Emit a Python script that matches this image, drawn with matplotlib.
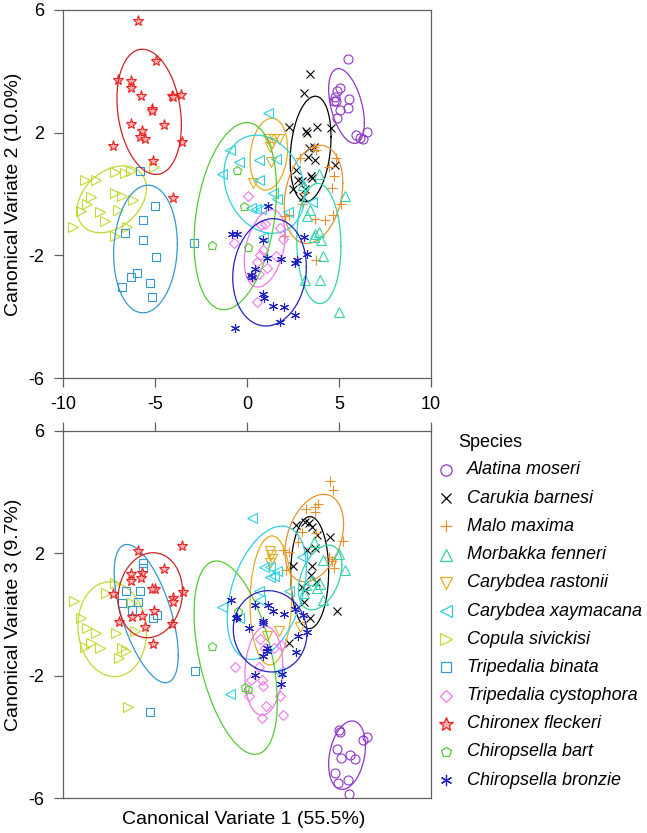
import numpy as np
import matplotlib
matplotlib.use('Agg')
import matplotlib.pyplot as plt
from matplotlib.lines import Line2D

plt.rcParams['font.family'] = ['Liberation Sans', 'DejaVu Sans']
plt.rcParams['axes.unicode_minus'] = False

species = ['Alatina moseri', 'Carukia barnesi', 'Malo maxima', 'Morbakka fenneri',
           'Carybdea rastonii', 'Carybdea xaymacana', 'Copula sivickisi', 'Tripedalia binata',
           'Tripedalia cystophora', 'Chironex fleckeri', 'Chiropsella bart', 'Chiropsella bronzie']

# points in the CV1/CV2 plane (top) and CV1/CV3 plane (bottom)
alatina_cv1_a = [5.48, 5.06, 4.88, 4.75, 4.85, 5.55, 5.48, 5.06, 4.88, 5.92, 6.28, 6.52, 6.15, 4.70]
alatina_cv2 = [4.39, 3.47, 3.37, 3.17, 3.04, 3.11, 2.82, 2.74, 2.48, 1.92, 1.78, 2.02, 1.83, 3.04]
alatina_cv1_b = [4.97, 5.06, 6.30, 6.52, 4.88, 5.10, 5.57, 5.88, 4.75, 4.94, 5.48, 5.52]
alatina_cv3 = [-3.79, -3.84, -4.11, -4.00, -4.41, -4.68, -4.60, -4.73, -5.17, -5.50, -5.42, -5.86]

carukia_cv1_a = [3.43, 3.07, 2.25, 3.79, 4.57, 3.21, 3.28, 3.39, 3.61, 3.30, 3.70, 4.79, 2.67, 3.47,
                 3.52, 2.79, 2.98, 2.52, 3.16, 3.03]
carukia_cv2 = [3.90, 3.30, 2.19, 2.19, 2.17, 2.05, 1.98, 1.49, 1.52, 1.21, 1.10, 0.94, 0.78, 0.59,
               0.54, 0.47, 0.43, 0.15, 0.18, -0.09]
carukia_cv1_b = [2.67, 3.16, 3.39, 3.52, 3.79, 4.52, 3.25, 3.70, 2.52, 3.52, 3.47, 2.98, 3.16, 3.76,
                 3.07, 4.88, 3.43, 2.25]
carukia_cv3 = [2.92, 3.03, 3.00, 2.87, 2.60, 2.54, 2.11, 2.16, 1.59, 1.59, 1.29, 0.91, 0.80, 1.07,
               0.41, 0.12, -0.10, -0.92]

malo_cv1_a = [3.61, 3.76, 2.89, 4.85, 4.43, 4.70, 4.61, 5.10, 1.98, 2.30, 3.70, 4.21, 4.66, 2.01,
              3.76, 3.07, 2.98]
malo_cv2 = [1.54, 1.43, 1.19, 1.19, 0.87, 0.58, 0.21, -0.31, -0.71, -0.69, -0.81, -0.83, -0.69, -1.38,
            -2.14, 0.02, -0.31]
malo_cv1_b = [4.48, 4.66, 3.21, 3.70, 3.83, 3.70, 2.79, 1.94, 2.30, 5.21, 4.43, 4.61, 4.75, 4.70,
              2.12, 3.76, 2.98]
malo_cv3 = [4.36, 4.07, 3.44, 3.50, 3.61, 3.34, 2.38, 2.11, 2.05, 2.41, 1.89, 1.76, 1.83, 1.51,
            1.45, 2.67, 2.71]

morbakka_cv1_a = [5.34, 3.88, 3.43, 3.25, 3.88, 3.70, 3.61, 4.01, 4.12, 3.16, 3.97, 4.97, 3.03]
morbakka_cv2 = [-0.07, 0.65, -0.53, -0.72, -1.24, -1.29, -1.40, -1.51, -2.03, -2.79, -2.79, -3.85, 0.29]
morbakka_cv1_b = [3.61, 4.12, 4.97, 5.34, 3.97, 3.79, 4.12, 3.21, 3.10, 3.52]
morbakka_cv3 = [2.36, 1.78, 1.97, 1.45, 1.01, 0.88, 0.49, 0.96, 0.71, 1.12]

rastonii_cv1_a = [1.16, 1.71, 1.47, 1.22, 1.29, 0.34, 1.34]
rastonii_cv2 = [1.78, 1.78, 1.78, 1.54, 1.05, 0.36, 1.67]
rastonii_cv1_b = [1.25, 1.29, 1.25, 1.76, 1.07, 1.34, 2.89]
rastonii_cv3 = [2.08, 1.94, 1.67, -0.53, -0.71, 1.80, -0.40]

xaymacana_cv1_a = [1.16, -0.93, -0.42, -1.38, 0.67, 1.58, 0.67, 1.43, 0.20, 0.47, 0.74, 2.21, 1.62,
                   0.85, 3.52]
xaymacana_cv2 = [2.63, 1.45, 1.04, 0.64, 1.12, 1.13, 0.46, 0.04, -0.44, -0.47, -0.47, -0.58, -0.15,
                 -1.40, -0.26]
xaymacana_cv1_b = [0.25, 0.93, 1.22, 1.62, 1.47, 1.22, 0.62, 0.71, -1.34, -0.42, 2.29, 2.98, 1.76, -0.93]
xaymacana_cv3 = [3.17, 1.56, 1.56, 1.43, 1.25, 1.23, 0.77, 0.47, 0.23, -0.13, 0.77, 1.89, -1.88, -2.59]

copula_cv1_a = [-8.82, -8.22, -7.19, -6.64, -6.32, -5.06, -7.19, -6.82, -8.46, -6.19, -8.69, -9.00,
                -8.00, -7.73, -7.01, -9.46, -7.19, -6.55]
copula_cv2 = [0.45, 0.45, 0.72, 0.70, 0.76, 0.89, 0.02, -0.07, -0.09, -0.20, -0.33, -0.55, -0.60,
              -0.88, -0.53, -1.07, -1.37, -1.07]
copula_cv1_b = [-9.42, -7.19, -7.68, -9.04, -8.69, -8.19, -7.13, -8.46, -8.82, -7.97, -6.82, -6.59,
                -6.95, -6.10, -6.46, -6.23]
copula_cv3 = [0.44, 1.04, 0.71, -0.10, -0.44, -0.59, -0.59, -0.92, -1.06, -1.11, -1.11, -1.19, -1.42,
              -0.53, -3.02, 0.36]

binata_cv1_a = [-5.83, -5.01, -5.68, -6.64, -5.68, -4.95, -2.89, -5.97, -6.28, -6.79, -5.28, -5.14]
binata_cv2 = [0.76, -0.39, -0.83, -1.26, -1.51, -2.05, -1.58, -2.57, -2.70, -3.03, -2.90, -3.36]
binata_cv1_b = [-5.64, -5.64, -6.59, -5.83, -6.77, -5.92, -6.23, -5.10, -4.92, -2.83, -5.28]
binata_cv3 = [1.67, 1.51, 0.77, 0.77, 0.39, 0.41, 0.16, -0.13, -0.02, -1.85, -3.19]

cystophora_cv1_a = [0.07, -0.69, 0.74, 0.98, 1.80, 1.94, 0.89, 0.71, 1.56, 0.53, 1.07, 0.62, 0.56, 0.25]
cystophora_cv2 = [-0.07, -1.61, -1.02, -0.99, -1.10, -1.48, -1.81, -2.00, -2.03, -2.21, -2.41, -2.60,
                  -3.52, -2.70]
cystophora_cv1_b = [0.71, -0.65, 0.62, 0.20, 0.80, 0.89, 1.80, 0.13, 1.03, 0.83, 1.94, 1.47, 1.83, 0.98]
cystophora_cv3 = [-0.79, -1.71, -1.71, -2.15, -2.13, -2.35, -2.67, -2.67, -3.00, -3.40, -3.27, -1.08,
                  -1.00, -1.08]

chironex_cv1_a = [-5.95, -4.97, -7.04, -6.28, -6.33, -5.77, -4.10, -4.00, -3.59, -5.19, -5.14, -6.32,
                  -4.50, -5.73, -5.83, -5.55, -3.52, -7.31, -5.10, -4.01]
chironex_cv2 = [5.65, 4.34, 3.71, 3.69, 3.47, 3.19, 3.21, 3.15, 3.24, 2.78, 2.70, 2.28, 2.26, 2.05,
                1.87, 1.79, 1.69, 1.58, 1.09, -0.12]
chironex_cv1_b = [-5.92, -5.01, -6.95, -6.28, -6.32, -5.73, -4.10, -4.01, -3.56, -5.19, -5.10, -6.24,
                  -4.50, -5.73, -5.79, -5.52, -3.50, -7.28, -5.06, -4.05]
chironex_cv3 = [2.09, 0.83, -0.24, 1.33, 1.09, 1.37, -0.31, 0.55, 2.24, 0.83, -0.96, -0.09, 1.50,
                -0.05, 1.20, -0.40, 0.72, 0.68, 0.10, 0.40]

bart_cv1_a = [-0.53, -0.15, -1.92, 0.07]
bart_cv2 = [0.80, -0.40, -1.66, -1.71]
bart_cv1_b = [-0.47, -1.89, -0.11, 0.07]
bart_cv3 = [0.12, -1.03, -2.37, -2.45]

bronzie_cv1_a = [1.13, -0.83, -0.53, 0.89, 3.10, 3.25, 1.07, 1.83, 2.70, 2.61, 0.44, 0.20, 0.25, 0.85,
                 0.93, 1.40, 2.01, 2.61, 1.80, -0.65]
bronzie_cv2 = [-0.40, -1.29, -1.29, -1.51, -1.40, -1.96, -2.08, -2.11, -2.16, -2.25, -2.43, -2.65,
               -2.70, -3.27, -3.38, -3.66, -3.68, -3.95, -4.17, -4.37]
bronzie_cv1_b = [-0.87, -0.60, -0.53, 0.13, 0.44, 1.13, 0.85, 0.89, 1.40, 2.01, 2.61, 3.03, 2.79, 3.25,
                 2.65, 1.07, 1.07, 0.89, 0.44, 1.89, 1.83]
bronzie_cv3 = [0.47, -0.10, -0.08, -0.44, 0.31, 0.31, -0.21, -0.29, 0.11, 0.03, 0.17, 0.00, -0.71,
               -0.57, -1.24, -1.08, -1.19, -1.35, -1.99, -1.95, -2.26]

# group ellipses: centre, half extents along CV axes, correlation
ell2_cx = [5.40, 3.45, 3.61, 3.90, 1.18, 0.94, -7.35, -5.52, 0.96, -5.32, -0.64, 1.22]
ell2_cy = [2.87, 1.47, -0.01, -1.61, 1.30, 0.32, -0.17, -1.79, -1.77, 2.68, -0.72, -2.55]
ell2_rx = [0.97, 1.11, 1.59, 1.20, 1.02, 2.20, 1.88, 1.73, 1.11, 1.75, 2.24, 2.00]
ell2_ry = [1.22, 1.72, 1.60, 1.96, 1.17, 1.60, 1.09, 2.08, 1.26, 2.04, 3.05, 1.75]
ell2_r = [-0.45, 0.23, 0.23, -0.05, 0.16, -0.20, 0.33, 0.08, 0.34, -0.21, 0.28, 0.10]

ell3_cx = [5.43, 3.40, 3.65, 3.97, 1.29, 1.07, -7.33, -5.48, 0.91, -5.26, -0.62, 1.25]
ell3_cy = [-4.60, 1.37, 2.50, 1.21, 0.46, 0.71, -0.48, 0.03, -1.84, 0.63, -1.41, -0.55]
ell3_rx = [1.00, 1.03, 1.59, 1.18, 1.13, 2.15, 1.86, 1.74, 1.03, 1.75, 2.26, 2.00]
ell3_ry = [1.12, 1.83, 1.43, 1.06, 2.11, 2.18, 1.55, 2.26, 1.45, 1.39, 3.16, 1.33]
ell3_r = [0.27, 0.02, 0.32, 0.39, 0.05, 0.38, -0.07, -0.60, 0.10, 0.09, -0.46, -0.05]

top_x = [alatina_cv1_a, carukia_cv1_a, malo_cv1_a, morbakka_cv1_a, rastonii_cv1_a, xaymacana_cv1_a,
         copula_cv1_a, binata_cv1_a, cystophora_cv1_a, chironex_cv1_a, bart_cv1_a, bronzie_cv1_a]
top_y = [alatina_cv2, carukia_cv2, malo_cv2, morbakka_cv2, rastonii_cv2, xaymacana_cv2,
         copula_cv2, binata_cv2, cystophora_cv2, chironex_cv2, bart_cv2, bronzie_cv2]
bot_x = [alatina_cv1_b, carukia_cv1_b, malo_cv1_b, morbakka_cv1_b, rastonii_cv1_b, xaymacana_cv1_b,
         copula_cv1_b, binata_cv1_b, cystophora_cv1_b, chironex_cv1_b, bart_cv1_b, bronzie_cv1_b]
bot_y = [alatina_cv3, carukia_cv3, malo_cv3, morbakka_cv3, rastonii_cv3, xaymacana_cv3,
         copula_cv3, binata_cv3, cystophora_cv3, chironex_cv3, bart_cv3, bronzie_cv3]

colors = ['#8f36c8', '#000000', '#e8902c', '#30d4a8', '#e0ac22', '#2ccfe0',
          '#c4d830', '#3298d0', '#ee78ee', '#ee2020', '#55c834', '#2222c0']
ell_colors = colors[:9] + ['#cc2222'] + colors[10:]

markers = ['o', 'x', '+', '^', 'v', '<', '>', 's', 'D', '*', 'p', (6, 2, 0)]
msizes = [6.5, 5.8, 6.5, 6.5, 6.5, 6.5, 6.5, 5.8, 4.6, 8.0, 6.3, 6.5]
mfaces = ['none'] * 9 + ['#f6b0b0'] + ['none'] * 2


def draw_ellipse(ax, cx, cy, rx, ry, r, color):
    t = np.linspace(0, 2 * np.pi, 300)
    x = cx + rx * np.cos(t)
    y = cy + ry * (r * np.cos(t) + np.sqrt(1 - r * r) * np.sin(t))
    ax.plot(x, y, color=color, lw=0.9)


def style_axes(ax):
    ax.set_xlim(-10, 10)
    ax.set_ylim(-6, 6)
    ax.set_yticks([-6, -2, 2, 6])
    ax.set_xticks([-10, -5, 0, 5, 10])
    for s in ax.spines.values():
        s.set_color('#606060')
        s.set_linewidth(0.9)
    ax.tick_params(colors='#606060', labelcolor='black', labelsize=13, length=6.5, width=0.9)
    ax.tick_params(axis='y', pad=7)


fig = plt.figure(figsize=(6.47, 8.33), dpi=100)
ax1 = fig.add_axes([0.0974, 0.546, 0.569, 0.442])
ax2 = fig.add_axes([0.0974, 0.042, 0.569, 0.4406])

for i in range(len(species)):
    ax1.plot(top_x[i], top_y[i], ls='none', marker=markers[i], ms=msizes[i], mfc=mfaces[i],
             mec=colors[i], mew=0.8)
    ax2.plot(bot_x[i], bot_y[i], ls='none', marker=markers[i], ms=msizes[i], mfc=mfaces[i],
             mec=colors[i], mew=0.8)
    draw_ellipse(ax1, ell2_cx[i], ell2_cy[i], ell2_rx[i], ell2_ry[i], ell2_r[i], ell_colors[i])
    draw_ellipse(ax2, ell3_cx[i], ell3_cy[i], ell3_rx[i], ell3_ry[i], ell3_r[i], ell_colors[i])

style_axes(ax1)
ax1.tick_params(axis='x', pad=6)
ax1.set_ylabel('Canonical Variate 2 (10.0%)', fontsize=14)
ax1.yaxis.set_label_coords(-0.112, 0.5)

style_axes(ax2)
ax2.xaxis.tick_top()
ax2.tick_params(axis='x', labeltop=False)
ax2.set_ylabel('Canonical Variate 3 (9.7%)', fontsize=14)
ax2.yaxis.set_label_coords(-0.112, 0.5)
ax2.set_xlabel('Canonical Variate 1 (55.5%)', fontsize=14)
ax2.xaxis.set_label_position('bottom')
ax2.xaxis.set_label_coords(0.49, -0.035)

# legend drawn in figure pixels
W, H = 647.0, 833.0
fig.text(458 / W, 1 - 443 / H, 'Species', fontsize=13, va='center', ha='left')
for i, name in enumerate(species):
    yy = 1 - (470 + 28.2 * i) / H
    fig.add_artist(Line2D([446 / W], [yy], ls='none', marker=markers[i], ms=msizes[i] * 1.25,
                          mfc=mfaces[i], mec=colors[i], mew=0.9, transform=fig.transFigure))
    fig.text(467 / W, yy, name, fontsize=13, style='italic', va='center', ha='left')

fig.savefig('out.png', dpi=100)
